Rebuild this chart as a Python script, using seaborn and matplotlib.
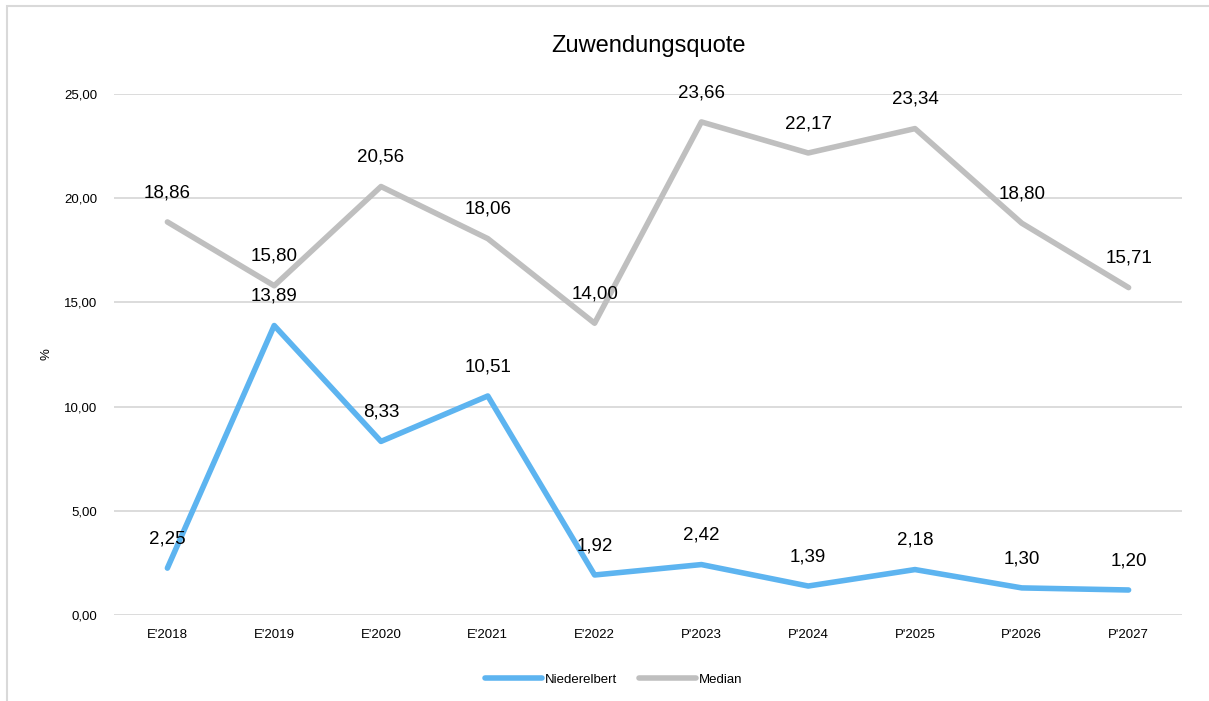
import pandas as pd
import seaborn as sns
import matplotlib.pyplot as plt
from matplotlib.patches import Rectangle

# data
jahre = ["E'2018", "E'2019", "E'2020", "E'2021", "E'2022",
         "P'2023", "P'2024", "P'2025", "P'2026", "P'2027"]
niederelbert = [2.25, 13.89, 8.33, 10.51, 1.92, 2.42, 1.39, 2.18, 1.30, 1.20]
median = [18.86, 15.80, 20.56, 18.06, 14.00, 23.66, 22.17, 23.34, 18.80, 15.71]

df = pd.DataFrame({
    'Jahr': jahre * 2,
    'Wert': niederelbert + median,
    'Reihe': ['Niederelbert'] * len(jahre) + ['Median'] * len(jahre),
})

sns.set_style('white')
plt.rcParams['font.family'] = ['Liberation Sans Narrow', 'Liberation Sans', 'DejaVu Sans']
plt.rcParams['text.color'] = 'black'
plt.rcParams['xtick.color'] = 'black'
plt.rcParams['ytick.color'] = 'black'
plt.rcParams['axes.labelcolor'] = 'black'

fig = plt.figure(figsize=(12.09, 7.01), dpi=100)
ax = fig.add_axes([114 / 1209, 1 - 615 / 701, 1068 / 1209, 521 / 701])

farben = {'Niederelbert': '#5DB4F0', 'Median': '#BFBFBF'}
sns.lineplot(data=df, x='Jahr', y='Wert', hue='Reihe', palette=farben,
             linewidth=4, sort=False, ax=ax)

# data labels above each point
for reihe, werte in [('Niederelbert', niederelbert), ('Median', median)]:
    for i, v in enumerate(werte):
        ax.annotate(f'{v:.2f}'.replace('.', ','), (i, v), xytext=(0, 15),
                    textcoords='offset points', ha='center', va='bottom',
                    fontsize=13.5)

ax.set_xlim(-0.5, len(jahre) - 0.5)
ax.set_ylim(0, 25)
ax.set_yticks([0, 5, 10, 15, 20, 25])
ax.set_yticklabels([f'{t:.2f}'.replace('.', ',') for t in [0, 5, 10, 15, 20, 25]])
ax.tick_params(axis='both', length=0, labelsize=9.5)
ax.tick_params(axis='x', pad=10)
ax.tick_params(axis='y', pad=12)
ax.yaxis.grid(True, color='#D9D9D9', linewidth=1.3)
ax.set_axisbelow(True)
for s in ax.spines.values():
    s.set_visible(False)
ax.set_xlabel('')
ax.set_ylabel('%', fontsize=9.5, labelpad=8)
ax.set_title('Zuwendungsquote', fontsize=17, pad=30)

ax.legend(loc='upper center', bbox_to_anchor=(0.468, -0.09), ncol=2,
          frameon=False, fontsize=9.5, handlelength=4.3, columnspacing=1.7,
          handletextpad=0.2)

# outer chart frame
fig.patches.append(Rectangle((7 / 1209, -0.01), 1.02, 1 - 6 / 701 + 0.01,
                             transform=fig.transFigure, fill=False,
                             edgecolor='#D9D9D9', linewidth=1.5))

fig.savefig('out.png', dpi=100)
